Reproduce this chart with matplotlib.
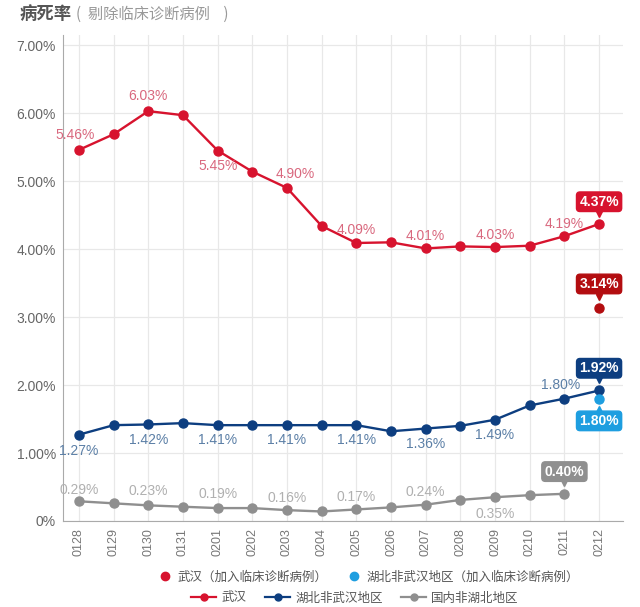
import matplotlib
matplotlib.use("Agg")
import matplotlib.pyplot as plt
from matplotlib.lines import Line2D
import matplotlib.transforms as mtransforms

plt.rcParams['font.family'] = ['Noto Sans CJK SC', 'DejaVu Sans']

dates = ["0128", "0129", "0130", "0131", "0201", "0202", "0203", "0204",
         "0205", "0206", "0207", "0208", "0209", "0210", "0211", "0212"]
wuhan = [5.46, 5.69, 6.03, 5.97, 5.45, 5.14, 4.90, 4.34,
         4.09, 4.10, 4.01, 4.04, 4.03, 4.05, 4.19, 4.37]
hubei_other = [1.27, 1.41, 1.42, 1.44, 1.41, 1.41, 1.41, 1.41,
               1.41, 1.32, 1.36, 1.40, 1.49, 1.70, 1.80, 1.92]
non_hubei = [0.29, 0.26, 0.23, 0.21, 0.19, 0.19, 0.16, 0.14,
             0.17, 0.20, 0.24, 0.31, 0.35, 0.38, 0.40, None]
wuhan_clinical = 3.14
hubei_other_clinical = 1.80
yticks = [0, 1, 2, 3, 4, 5, 6, 7]

RED = "#d7132e"
NAVY = "#0d3e80"
GREY = "#8f8f8f"
LBLUE = "#1e9ee0"
DRED = "#b30d10"
LAT = ['Liberation Sans', 'DejaVu Sans']

fig = plt.figure(figsize=(6.4, 6.07), dpi=100)
ax = fig.add_axes([63/640, 1-521/607, (623-63)/640, (521-35)/607])
x = list(range(len(dates)))

ax.set_xlim(-0.46, 15.69)
ax.set_ylim(0, 7.15)
ax.set_yticks(yticks)
ax.set_yticklabels(["0%" if v == 0 else f"{v:.2f}%" for v in yticks],
                   fontsize=10, color="#666666", family=LAT)
ax.set_xticks(x)
ax.set_xticklabels(dates, rotation=90, fontsize=9, color="#777777", family=LAT)
ax.tick_params(axis='both', length=0, pad=5)
ax.grid(True, color="#e8e8e8", linewidth=0.9)
ax.set_axisbelow(True)
for s in ["top", "right"]:
    ax.spines[s].set_visible(False)
ax.spines["left"].set_color("#aaaaaa")
ax.spines["bottom"].set_color("#aaaaaa")

ax.plot(x, wuhan, color=RED, marker="o", markersize=6.5, linewidth=1.7, zorder=3)
ax.plot(x, hubei_other, color=NAVY, marker="o", markersize=6.5, linewidth=1.7, zorder=3)
gx = [i for i, v in zip(x, non_hubei) if v is not None]
gy = [v for v in non_hubei if v is not None]
ax.plot(gx, gy, color=GREY, marker="o", markersize=6.5, linewidth=1.7, zorder=3)
ax.plot([15], [wuhan_clinical], "o", color=DRED, markersize=6.5, zorder=3)
ax.plot([15], [hubei_other_clinical], "o", color=LBLUE, markersize=6.5, zorder=3)

lab_font = dict(fontsize=10, family=LAT)

def lbl(i, v, dy, color, dx=0):
    ax.annotate(f"{v:.2f}%", (i, v), xytext=(dx, dy), textcoords="offset points",
                ha="center", va="center", color=color, **lab_font)

WL = "#d9687e"
HL = "#5b7fa6"
GL = "#b0b0b0"
# Wuhan labels
lbl(0, wuhan[0], 11, WL, dx=-3)
lbl(2, wuhan[2], 11, WL)
lbl(4, wuhan[4], -11, WL)
lbl(6, wuhan[6], 10, WL, dx=6)
lbl(8, wuhan[8], 9, WL)
lbl(10, wuhan[10], 9, WL)
lbl(12, wuhan[12], 9, WL)
lbl(14, wuhan[14], 9, WL)
# Hubei other labels
lbl(0, hubei_other[0], -12, HL)
lbl(2, hubei_other[2], -11, HL)
lbl(4, hubei_other[4], -11, HL)
lbl(6, hubei_other[6], -11, HL)
lbl(8, hubei_other[8], -11, HL)
lbl(10, hubei_other[10], -11, HL)
lbl(12, hubei_other[12], -11, HL)
lbl(14, hubei_other[14], 10, HL, dx=-3)
# non-Hubei labels
lbl(0, non_hubei[0], 8, GL)
lbl(2, non_hubei[2], 10, GL)
lbl(4, non_hubei[4], 10, GL)
lbl(6, non_hubei[6], 9, GL)
lbl(8, non_hubei[8], 9, GL)
lbl(10, non_hubei[10], 9, GL)
lbl(12, non_hubei[12], -12, GL)

def boxed(i, v, dy, color):
    sign = 1 if dy > 0 else -1
    ax.annotate(f"{v:.2f}%", (i, v), xytext=(0, dy), textcoords="offset points",
                ha="center", va="center", color="white", fontsize=10, fontweight="bold",
                family=LAT,
                bbox=dict(boxstyle="round,pad=0.2,rounding_size=0.25", fc=color, ec=color), zorder=5)
    tr = mtransforms.offset_copy(ax.transData, fig=fig, x=0, y=sign * 7.5, units="points")
    ax.plot([i], [v], marker="v" if sign > 0 else "^", color=color, markersize=5,
            transform=tr, zorder=5, clip_on=False)

boxed(15, wuhan[15], 16, RED)
boxed(15, wuhan_clinical, 17, DRED)
boxed(15, hubei_other[15], 16, NAVY)
boxed(15, hubei_other_clinical, -16, LBLUE)
boxed(14, non_hubei[14], 16, GREY)

# Title
fig.text(20/640, 1-14/607, "病死率", fontsize=12.5, fontweight="bold", color="#555555",
         va="center", ha="left")
fig.text(76/640, 1-14/607, "(  剔除临床诊断病例    )", fontsize=11, color="#999999",
         va="center", ha="left")

# Legends
h1 = [Line2D([], [], linestyle="none", marker="o", color=RED, markersize=6),
      Line2D([], [], linestyle="none", marker="o", color=LBLUE, markersize=6)]
l1 = ["武汉（加入临床诊断病例）", "湖北非武汉地区（加入临床诊断病例）"]
fig.legend(h1, l1, loc="center", bbox_to_anchor=(0.575, 1-577/607), ncol=2,
           frameon=False, fontsize=9, handlelength=1.2, columnspacing=1.5,
           handletextpad=0.4, labelcolor="#555555")
h2 = [Line2D([], [], color=RED, marker="o", markersize=5, linewidth=1.6),
      Line2D([], [], color=NAVY, marker="o", markersize=5, linewidth=1.6),
      Line2D([], [], color=GREY, marker="o", markersize=5, linewidth=1.6)]
l2 = ["武汉", "湖北非武汉地区", "国内非湖北地区"]
fig.legend(h2, l2, loc="center", bbox_to_anchor=(0.555, 1-598/607), ncol=3,
           frameon=False, fontsize=9, handlelength=2.0, columnspacing=1.5,
           handletextpad=0.4, labelcolor="#555555")

fig.savefig("out.png", dpi=100)
